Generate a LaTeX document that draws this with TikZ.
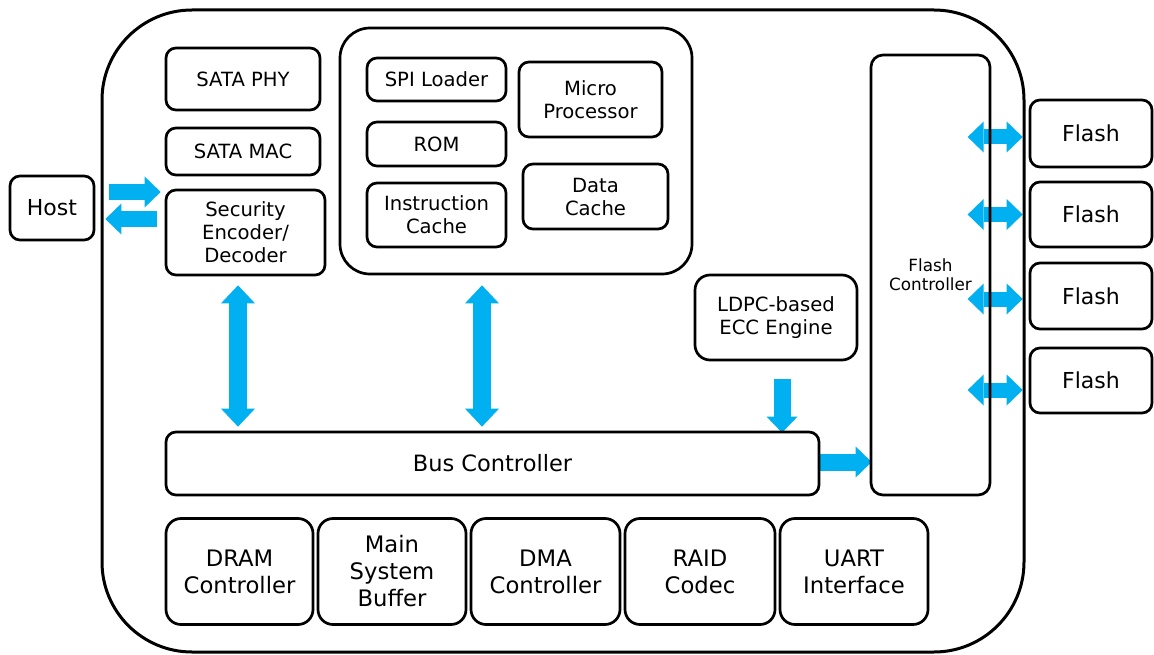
\documentclass[tikz,border=0pt]{standalone}
\usepackage{fontspec}
\setmainfont{DejaVu Sans}
\usetikzlibrary{arrows.meta,backgrounds}
\definecolor{acc}{HTML}{00B0F0}
\begin{document}
\begin{tikzpicture}[x=1pt,y=-1pt,
  box/.style={draw, line width=2.7pt, rounded corners=10pt, inner sep=0pt, align=center,
    font=\fontsize{19.6}{23}\selectfont},
  bigbox/.style={box, rounded corners=15pt, minimum width=148pt, minimum height=106pt,
    font=\fontsize{22.7}{27}\selectfont},
  flashbox/.style={box, minimum width=122pt, font=\fontsize{22}{25}\selectfont},
  tipV/.tip={Triangle[width=34pt,length=18pt,line width=0pt]},
  tipS/.tip={Triangle[width=31pt,length=16pt,line width=0pt]},
  varr/.style={draw=acc, line width=18pt, tipV-tipV},
  darr/.style={draw=acc, line width=15pt, tipS-tipS},
  sarr/.style={draw=acc, line width=16pt, -tipS},
]
\useasboundingbox (0,0) rectangle (1154,655);

% outer board
\node[draw, line width=3pt, rounded corners=90pt, minimum width=922pt, minimum height=642pt,
  inner sep=0pt] (outer) at (563,331) {};

% host
\node[box, minimum width=84pt, minimum height=64pt, font=\fontsize{22}{25}\selectfont] (host) at (52,208) {Host};

% left column
\node[box, minimum width=154pt, minimum height=62pt] (phy) at (243,79) {SATA PHY};
\node[box, minimum width=154pt, minimum height=47pt] (mac) at (243,151.5) {SATA MAC};
\node[box, minimum width=159pt, minimum height=85pt] (sec) at (245.5,232.5) {Security\\Encoder/\\Decoder};

% processor group
\node[box, rounded corners=30pt, minimum width=352pt, minimum height=246pt] (proc) at (516,151) {};
\node[box, minimum width=139pt, minimum height=43pt] (spi) at (436.5,79.5) {SPI Loader};
\node[box, minimum width=139pt, minimum height=44pt] (rom) at (436.5,144) {ROM};
\node[box, minimum width=139pt, minimum height=64pt] (icache) at (436.5,215) {Instruction\\Cache};
\node[box, minimum width=143pt, minimum height=75pt] (mp) at (590.5,99.5) {Micro\\Processor};
\node[box, minimum width=145pt, minimum height=65pt] (dcache) at (595.5,196.5) {Data\\Cache};

% LDPC
\node[box, rounded corners=15pt, minimum width=162pt, minimum height=85pt] (ldpc) at (776,317.5) {LDPC-based\\ECC Engine};

% flash controller
\node[box, rounded corners=12pt, minimum width=119pt, minimum height=440pt,
  font=\fontsize{16.8}{19}\selectfont] (fc) at (930.5,275) {Flash\\Controller};

% bus
\node[box, minimum width=653pt, minimum height=63pt, font=\fontsize{22.5}{25}\selectfont] (bus) at (492.5,463.5) {Bus Controller};

% bottom row
\node[bigbox, minimum width=147pt] (dram) at (239.5,571.5) {DRAM\\Controller};
\node[bigbox] (msb) at (392,571.5) {Main\\System\\Buffer};
\node[bigbox, minimum width=149pt] (dma) at (545.5,571.5) {DMA\\Controller};
\node[bigbox, minimum width=150pt] (raid) at (700,571.5) {RAID\\Codec};
\node[bigbox] (uart) at (854,571.5) {UART\\Interface};

% flash chips
\node[flashbox, minimum height=67pt] (f1) at (1091,133.5) {Flash};
\node[flashbox, minimum height=65pt] (f2) at (1091,214.5) {Flash};
\node[flashbox, minimum height=66pt] (f3) at (1091,296) {Flash};
\node[flashbox, minimum height=65pt] (f4) at (1091,380.5) {Flash};

% helper coordinates
\coordinate (h1) at ([yshift=16pt]host.east);
\coordinate (h2) at ([yshift=-11pt]host.east);
\coordinate (v1) at (238,0);
\coordinate (v2) at (482,0);
\coordinate (v3) at (782,0);
\coordinate (b1) at (0,462);

\begin{scope}[on background layer]
  % host <-> security
  \draw[sarr, shorten <=14pt, shorten >=4pt] (h1) -- (h1 -| sec.west);
  \draw[sarr, shorten <=8pt, shorten >=10pt] (h2 -| sec.west) -- (h2);
  % vertical bus arrows
  \draw[varr, shorten <=9pt, shorten >=4pt] (v1 |- sec.south) -- (v1 |- bus.north);
  \draw[varr, shorten <=10pt, shorten >=4pt] (v2 |- proc.south) -- (v2 |- bus.north);
  % LDPC -> bus
  \draw[sarr, line width=17pt, shorten <=18pt, shorten >=-2pt] (v3 |- ldpc.south) -- (v3 |- bus.north);
  % bus -> flash controller
  \draw[sarr, line width=17pt, shorten >=-2pt] (b1 -| bus.east) -- (b1 -| fc.west);
  % flash controller <-> flash
  \draw[darr] ([xshift=-61pt,yshift=-3.5pt]f1.west) -- ([xshift=-6pt,yshift=-3.5pt]f1.west);
  \draw[darr] ([xshift=-61pt]f2.west) -- ([xshift=-6pt]f2.west);
  \draw[darr] ([xshift=-61pt,yshift=-3pt]f3.west) -- ([xshift=-6pt,yshift=-3pt]f3.west);
  \draw[darr] ([xshift=-61pt,yshift=-9.5pt]f4.west) -- ([xshift=-6pt,yshift=-9.5pt]f4.west);
\end{scope}
\end{tikzpicture}
\end{document}
